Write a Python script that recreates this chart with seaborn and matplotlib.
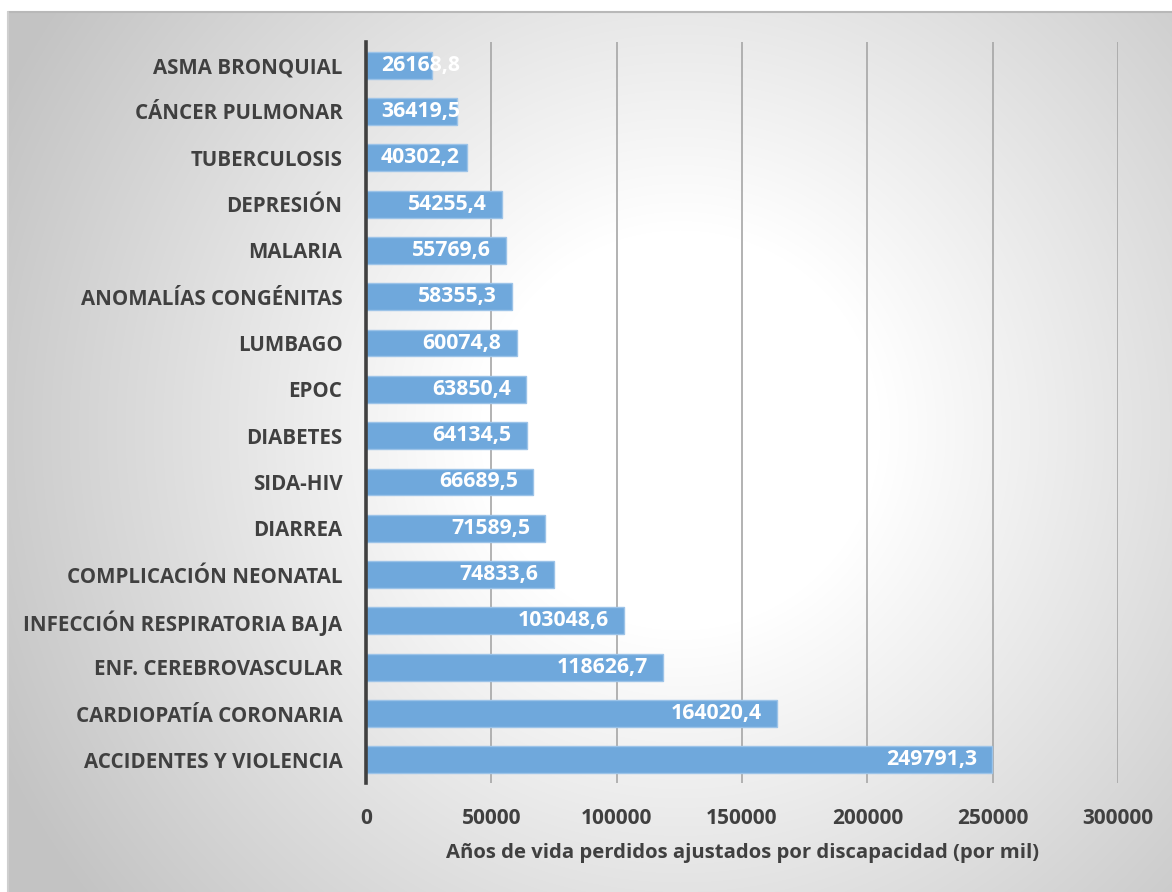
import numpy as np
import pandas as pd
import matplotlib
matplotlib.use('Agg')
import matplotlib.pyplot as plt
import seaborn as sns

categorias = ['ASMA BRONQUIAL', 'CÁNCER PULMONAR', 'TUBERCULOSIS', 'DEPRESIÓN',
              'MALARIA', 'ANOMALÍAS CONGÉNITAS', 'LUMBAGO', 'EPOC', 'DIABETES',
              'SIDA-HIV', 'DIARREA', 'COMPLICACIÓN NEONATAL',
              'INFECCIÓN RESPIRATORIA BAJA', 'ENF. CEREBROVASCULAR',
              'CARDIOPATÍA CORONARIA', 'ACCIDENTES Y VIOLENCIA']
valores = [26168.8, 36419.5, 40302.2, 54255.4, 55769.6, 58355.3, 60074.8,
           63850.4, 64134.5, 66689.5, 71589.5, 74833.6, 103048.6, 118626.7,
           164020.4, 249791.3]
ticks_x = [0, 50000, 100000, 150000, 200000, 250000, 300000]

df = pd.DataFrame({'causa': categorias, 'valor': valores})

sns.set_style('white')
plt.rcParams['font.family'] = ['Open Sans', 'DejaVu Sans']
plt.rcParams['font.weight'] = 'bold'

W, H = 1172, 892
fig = plt.figure(figsize=(W / 100, H / 100), dpi=100)
fig.patch.set_facecolor('white')

# radial grey-to-white background panel
bg = fig.add_axes([8 / W, 0, 1 - 8 / W, 1 - 12 / H], zorder=0)
xx, yy = np.meshgrid(np.arange(8, W), np.arange(12, H))
d = np.hypot(xx - 680, yy - 430)
shade = 255 - 60 * np.clip((d - 200) / 560, 0, 1)
img = np.dstack([shade, shade, shade]) / 255
bg.imshow(img, aspect='auto', interpolation='bilinear')
bg.axis('off')
fig.add_artist(plt.Line2D([8 / W, 1], [1 - 12 / H, 1 - 12 / H], color='#b8b8b8', lw=1.5))
fig.add_artist(plt.Line2D([8 / W, 8 / W], [0, 1 - 12 / H], color='#cfcfcf', lw=1.5))

ax = fig.add_axes([366 / W, 1 - 783 / H, (1118 - 366) / W, (783 - 42) / H], zorder=1)
ax.patch.set_alpha(0)

sns.barplot(data=df, x='valor', y='causa', orient='h', color='#6fa8dc',
            width=0.58, edgecolor='#9cc3e8', linewidth=1, saturation=1, ax=ax, zorder=3)

ax.set_xlim(0, 300000)
ax.set_ylim(len(categorias) - 0.5, -0.5)
ax.set_xticks(ticks_x)
ax.set_xticklabels([str(t) for t in ticks_x])
ax.xaxis.grid(True, color='#a6a6a6', lw=1.2, zorder=0)
ax.set_axisbelow(True)
for s in ['top', 'right', 'bottom']:
    ax.spines[s].set_visible(False)
ax.spines['left'].set_color('#404040')
ax.spines['left'].set_linewidth(2.6)
ax.spines['left'].set_zorder(4)
ax.tick_params(axis='both', length=0, labelcolor='#404040')
ax.tick_params(axis='x', pad=18, labelsize=15)
ax.tick_params(axis='y', pad=17, labelsize=14.8)
ax.set_ylabel('')
ax.set_xlabel('Años de vida perdidos ajustados por discapacidad (por mil)',
              fontsize=14.6, color='#404040', fontweight='bold', labelpad=10)

# data labels, inside end; pushed to the left edge when the bar is too short
fig.canvas.draw()
r = fig.canvas.get_renderer()
px_per_unit = ax.bbox.width / 300000
for i, v in enumerate(valores):
    txt = f'{v:.1f}'.replace('.', ',')
    t = ax.text(v - 6000, i, txt, ha='right', va='center', color='white',
                fontsize=15.3, fontweight='bold', zorder=5)
    w = t.get_window_extent(r).width / px_per_unit
    if v - 6000 - w < 6000:
        t.set_x(6000)
        t.set_ha('left')

fig.savefig('out.png', dpi=100)
